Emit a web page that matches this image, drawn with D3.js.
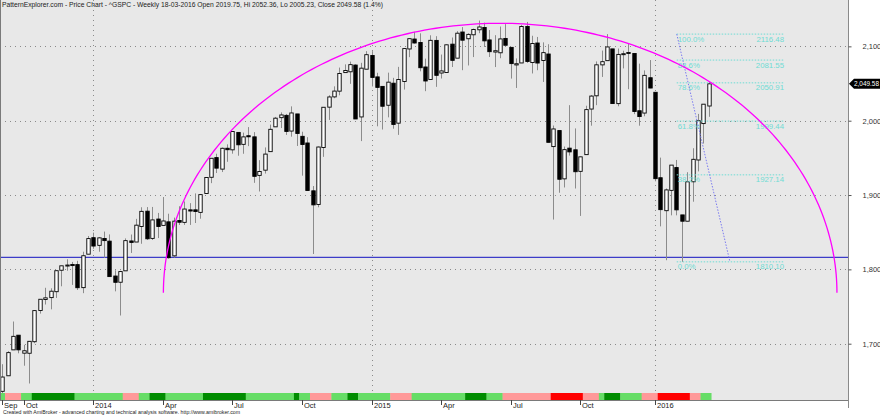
<!DOCTYPE html>
<html><head><meta charset="utf-8">
<script src="https://cdn.jsdelivr.net/npm/d3@7"></script>
<style>
html,body{margin:0;padding:0;background:#fff;}
svg{display:block;font-family:"Liberation Sans",Arial,sans-serif;}
</style></head>
<body>
<svg id="c" width="880" height="415"></svg>
<script>
// ---------- DATA (S&P 500 weekly, week ending 2013-09-06 .. 2016-03-18) ----------
const startDate = "2013-09-06";
const open = [1635.95,1656.85,1691.70,1711.44,1687.26,1687.15,1702.68,1744.66,1759.42,1762.01,
1769.96,1798.82,1804.82,1806.55,1806.40,1775.42,1820.42,1842.61,1832.31,1841.52,
1837.97,1791.03,1782.68,1798.03,1838.22,1836.78,1857.68,1878.26,1841.66,1867.67,
1859.16,1863.92,1818.18,1865.79,1863.23,1880.03,1880.07,1876.66,1902.01,1923.87,
1950.34,1934.84,1962.92,1960.79,1984.22,1968.17,1979.75,1978.25,1926.43,1933.43,
1958.36,1991.74,2004.07,2007.17,1986.04,2009.08,1978.96,1970.01,1905.65,1887.34,
1963.96,2018.21,2032.01,2039.74,2064.69,2065.78,2074.84,2005.03,2069.28,2087.63,
2058.90,2046.13,2020.76,2050.42,1996.67,2052.74,2096.47,2109.83,2105.23,2072.25,
2055.35,2107.99,2064.11,2064.87,2102.94,2084.11,2119.29,2110.23,2115.56,2122.27,
2125.34,2108.64,2092.34,2091.34,2110.64,2098.63,2075.00,2077.66,2126.80,2078.19,
2104.49,2080.98,2089.70,1965.15,1986.73,1921.75,1963.06,1960.84,1931.86,1954.33,
2015.65,2033.47,2075.08,2080.76,2096.56,2022.95,2089.41,2090.95,2090.42,2013.37,
2010.27,2057.77,2038.20,1923.26,1878.93,1906.28,1936.94,1873.25,1864.78,1917.83,
1947.13,1996.11,2019.75];
const high = [1672.40,1689.97,1729.86,1711.44,1698.43,1703.44,1745.31,1759.82,1775.22,1774.54,
1798.22,1804.84,1813.55,1810.02,1811.52,1823.75,1844.89,1849.44,1843.23,1850.84,
1847.00,1798.77,1798.03,1841.65,1846.87,1867.92,1883.57,1883.79,1883.97,1875.92,
1897.28,1874.86,1869.63,1884.89,1891.33,1889.07,1902.17,1901.26,1924.03,1949.44,
1955.55,1963.91,1968.17,1985.59,1984.22,1983.94,1991.39,1984.60,1946.91,1964.04,
1994.76,2005.04,2011.17,2009.08,2019.26,2009.08,1985.17,1977.84,1912.09,1965.27,
2018.19,2034.26,2046.18,2071.46,2075.76,2079.47,2075.78,2077.85,2093.55,2093.55,
2064.43,2046.13,2064.62,2057.62,2072.40,2097.03,2110.61,2119.59,2117.52,2083.49,
2114.86,2113.69,2088.97,2102.61,2111.91,2120.49,2125.92,2117.66,2123.89,2134.72,
2131.82,2121.92,2115.02,2126.65,2129.87,2098.63,2083.74,2128.91,2132.82,2114.24,
2112.66,2105.35,2102.87,1993.48,1986.73,1965.20,2020.86,1989.60,1951.83,2020.13,
2034.45,2079.74,2094.32,2116.48,2096.56,2097.06,2094.12,2104.27,2090.42,2076.72,
2067.65,2081.56,2038.20,1950.33,1908.85,1940.24,1947.20,1873.25,1930.68,1962.96,
2009.13,2022.37,2052.36];
const low = [1633.41,1656.85,1691.70,1687.11,1670.36,1646.47,1700.65,1740.50,1752.70,1746.20,
1761.56,1777.23,1798.17,1779.09,1772.28,1767.99,1820.42,1827.74,1823.73,1815.52,
1790.29,1770.45,1737.92,1798.03,1822.06,1836.78,1834.44,1839.57,1839.49,1842.11,
1859.16,1814.36,1815.80,1859.70,1859.79,1859.79,1862.36,1868.14,1902.01,1915.98,
1929.59,1930.91,1944.69,1955.59,1952.86,1955.49,1965.77,1916.37,1904.78,1928.89,
1958.36,1991.74,1990.10,1980.84,1978.48,1965.99,1926.03,1906.05,1820.66,1883.51,
1951.37,2001.01,2030.17,2034.14,2064.69,2049.57,2002.33,1972.56,2069.28,2046.04,
1992.44,1988.12,2004.49,1989.18,1980.90,2041.88,2085.44,2103.75,2066.41,2039.69,
2055.35,2045.50,2056.72,2064.87,2072.21,2084.11,2067.93,2074.29,2085.57,2117.69,
2099.14,2085.67,2072.14,2084.03,2101.61,2056.64,2044.02,2077.66,2077.73,2063.52,
2067.91,2052.09,1970.89,1867.01,1903.07,1910.16,1953.03,1908.77,1871.91,1954.33,
1993.26,2020.86,2058.84,2080.76,2022.87,2019.39,2070.29,2042.35,2008.80,1993.26,
2005.93,2043.62,1918.46,1857.83,1812.29,1872.65,1872.65,1810.10,1864.78,1891.00,
1931.81,1969.25,2005.23];
const close = [1655.17,1687.99,1709.91,1691.75,1690.50,1703.20,1744.50,1759.77,1761.64,1770.61,
1798.18,1804.76,1805.81,1805.09,1775.32,1818.32,1841.40,1831.37,1842.37,1838.70,
1790.29,1782.59,1797.02,1838.63,1836.25,1859.45,1878.04,1841.13,1866.52,1857.62,
1865.09,1815.69,1864.85,1863.40,1881.14,1878.48,1877.86,1900.53,1923.57,1949.44,
1936.16,1962.87,1960.96,1985.44,1967.57,1978.22,1978.34,1925.15,1931.59,1955.06,
1988.40,2003.37,2007.71,1985.54,2010.40,1982.85,1967.90,1906.13,1886.76,1964.58,
2018.05,2031.92,2039.82,2063.50,2067.56,2075.37,2002.33,2070.65,2088.77,2058.20,
2044.81,2019.42,2051.82,1994.99,2055.47,2096.99,2110.30,2104.50,2071.26,2053.40,
2108.10,2061.02,2066.96,2102.06,2081.18,2117.69,2108.29,2116.10,2122.73,2126.06,
2107.39,2092.83,2094.11,2109.99,2101.49,2076.78,2076.62,2126.64,2079.65,2103.84,
2077.57,2091.54,1970.89,1988.87,1921.22,1961.05,1958.03,1931.34,1951.36,2014.89,
2033.11,2075.15,2079.36,2099.20,2023.04,2089.17,2090.11,2091.69,2012.37,2005.55,
2060.99,2043.94,1922.03,1880.33,1906.90,1940.24,1880.05,1864.78,1917.78,1948.05,
1999.99,2022.19,2049.58];

// bottom ribbon: runs of [state, number of bars]
const ribbonRuns = [["lg",1],["pk",3],["lg",2],["dg",8],["lg",9],["pk",3],["lg",2],["dg",3],["lg",7],["dg",8],
["lg",9],["dg",1],["lg",2],["pk",4],["lg",3],["dg",2],["lg",6],["pk",4],["lg",10],["dg",4],
["lg",3],["pk",9],["rd",6],["pk",3],["lg",1],["dg",3],["lg",4],["pk",3],["rd",6],["pk",2],["lg",2]];

const tickLabels = ["Sep","Oct","2014","Apr","Jul","Oct","2015","Apr","Jul","Oct","2016"];
const tickDates  = ["2013-09-06","2013-10-04","2014-01-03","2014-04-04","2014-07-03","2014-10-03",
                    "2015-01-02","2015-04-02","2015-07-02","2015-10-02","2016-01-08"];
const priceTicks = [1700,1800,1900,2000,2100];

const fibLabels = ["100.0%","88.6%","78.6%","61.8%","38.2%","0.0%"];
const fibValues = [2116.48,2081.55,2050.91,1999.44,1927.14,1810.10];
const fibStartBar = 126.05, fibEndBar = 146.1;
const trendLine = [[126.05,2116.48],[136.0,1810.10]];
const supportLevel = 1816;
const arcBars = [30.1,156.0], arcBase = 1768.4, arcTop = 2131;

const titleText = "PatternExplorer.com - Price Chart - ^GSPC - Weekly 18-03-2016 Open 2019.75, Hi 2052.36, Lo 2005.23, Close 2049.58 (1.4%)";
const creditText = "Created with AmiBroker - advanced charting and technical analysis software. http://www.amibroker.com";

// ---------- DRAW ----------
const svg = d3.select("#c");
const W = 880, H = 415, plotR = 848, plotB = 400, ribbonTop = 393;
const x = d3.scaleLinear().domain([0,158]).range([2.35, 2.35+158*5.35]);
const y = d3.scaleLinear().domain([1700,2100]).range([343.7,46.35]);
const n = close.length;
const wk = 7*864e5;
const t0 = new Date(startDate+"T00:00:00Z").getTime();
const barOf = s => Math.round((new Date(s+"T00:00:00Z").getTime()-t0)/wk);

svg.append("rect").attr("x",0).attr("y",0).attr("width",plotR).attr("height",plotB).attr("fill","#e8e8e8");

const clip = svg.append("defs").append("clipPath").attr("id","pc");
clip.append("rect").attr("x",0).attr("y",0).attr("width",plotR).attr("height",ribbonTop);

// grid
const grid = svg.append("g");
grid.selectAll("line.h").data(priceTicks).join("line")
  .attr("x1",0).attr("x2",plotR).attr("y1",d=>Math.round(y(d))+0.5).attr("y2",d=>Math.round(y(d))+0.5)
  .attr("stroke","#8a8a8a").attr("stroke-dasharray","1,4");
const yearTicks = tickLabels.map((l,i)=>({l,b:barOf(tickDates[i])})).filter(d=>/^\d{4}$/.test(d.l));
grid.selectAll("line.v").data(yearTicks).join("line")
  .attr("x1",d=>Math.round(x(d.b))+0.5).attr("x2",d=>Math.round(x(d.b))+0.5).attr("y1",0).attr("y2",ribbonTop)
  .attr("stroke","#8a8a8a").attr("stroke-dasharray","1,4");

// ribbon
const ribbonColor = {lg:"#66dd66",dg:"#008c00",pk:"#ff9999",rd:"#ff0000"};
let acc = 0;
const ribbon = ribbonRuns.map(([s,k])=>{const r={s,a:acc,b:acc+k}; acc+=k; return r;});
svg.append("g").selectAll("rect").data(ribbon).join("rect")
  .attr("x",d=>x(d.a-0.5)).attr("width",d=>x(d.b-0.5)-x(d.a-0.5)+0.3)
  .attr("y",ribbonTop).attr("height",plotB-ribbonTop).attr("fill",d=>ribbonColor[d.s]);

const g = svg.append("g").attr("clip-path","url(#pc)");

// support line
g.append("line").attr("x1",0).attr("x2",plotR).attr("y1",y(supportLevel)).attr("y2",y(supportLevel))
  .attr("stroke","#3c3cc8").attr("stroke-width",1.2);

// candles
const bars = d3.range(n).map(i=>({i,o:open[i],h:high[i],l:low[i],c:close[i]}));
g.append("g").selectAll("line").data(bars).join("line")
  .attr("x1",d=>Math.round(x(d.i))+0.5).attr("x2",d=>Math.round(x(d.i))+0.5)
  .attr("y1",d=>y(d.h)).attr("y2",d=>y(d.l)).attr("stroke","#8c8c8c").attr("stroke-width",1);
const bw = 3.4;
g.append("g").selectAll("rect").data(bars).join("rect")
  .attr("x",d=>Math.round(x(d.i))+0.5-bw/2).attr("width",bw)
  .attr("y",d=>y(Math.max(d.o,d.c))).attr("height",d=>Math.max(1,Math.abs(y(d.o)-y(d.c))))
  .attr("fill",d=>d.c>=d.o?"#ffffff":"#000000").attr("stroke","#000").attr("stroke-width",0.9);

// fib
const fibC = "#6fdcd4";
const fg = g.append("g");
fg.selectAll("line").data(fibValues).join("line")
  .attr("x1",x(fibStartBar)).attr("x2",x(fibEndBar)).attr("y1",d=>y(d)).attr("y2",d=>y(d))
  .attr("stroke",fibC).attr("stroke-dasharray","1.5,1.5");
fg.selectAll("text.l").data(fibValues).join("text").attr("class","l")
  .attr("x",x(fibStartBar)+1).attr("y",d=>y(d)+7.5).attr("fill",fibC).attr("font-size",7.8)
  .text((d,i)=>fibLabels[i]);
fg.selectAll("text.r").data(fibValues).join("text").attr("class","r")
  .attr("x",x(fibEndBar)).attr("y",d=>y(d)+7.5).attr("fill",fibC).attr("font-size",7.8)
  .attr("text-anchor","end").text(d=>d.toFixed(2));
g.append("line").attr("x1",x(trendLine[0][0])).attr("y1",y(trendLine[0][1]))
  .attr("x2",x(trendLine[1][0])).attr("y2",y(trendLine[1][1]))
  .attr("stroke","#7b7bf0").attr("stroke-dasharray","1.5,1.5");

// arc
const cxB = (arcBars[0]+arcBars[1])/2, rxB = (arcBars[1]-arcBars[0])/2;
const arcPts = d3.range(0,181).map(a=>{const t=Math.PI*a/180; return [cxB-rxB*Math.cos(t), arcBase+(arcTop-arcBase)*Math.sin(t)];});
g.append("path").attr("d",d3.line().x(d=>x(d[0])).y(d=>y(d[1]))(arcPts))
  .attr("fill","none").attr("stroke","#ff00ff").attr("stroke-width",1.3);

// axes frame
svg.append("line").attr("x1",0.5).attr("x2",0.5).attr("y1",0).attr("y2",plotB).attr("stroke","#7a7a7a");
svg.append("line").attr("x1",0).attr("x2",plotR).attr("y1",plotB+0.5).attr("y2",plotB+0.5).attr("stroke","#7a7a7a");
svg.append("line").attr("x1",plotR+0.5).attr("x2",plotR+0.5).attr("y1",0).attr("y2",408).attr("stroke","#8a8a8a");

// right axis
const ax = svg.append("g").attr("transform",`translate(${plotR+0.5},0)`)
  .call(d3.axisRight(y).tickValues(priceTicks).tickFormat(d3.format(",")).tickSize(3).tickPadding(11));
ax.select(".domain").remove();
ax.selectAll("line").attr("stroke","#555");
ax.selectAll("text").attr("font-size",7.5).attr("fill","#333").attr("font-family","Liberation Sans, Arial, sans-serif");

// last price tag
const lp = close[n-1], ly = y(lp);
svg.append("path").attr("d",`M${plotR+1},${ly} L${plotR+6},${ly-5} L${W},${ly-5} L${W},${ly+5} L${plotR+6},${ly+5} Z`).attr("fill","#000");
svg.append("text").attr("x",plotR+6).attr("y",ly+2.6).attr("fill","#fff").attr("font-size",7)
  .attr("textLength",25).attr("lengthAdjust","spacingAndGlyphs")
  .text(d3.format(",.2f")(lp));

// x axis ticks
const xt = svg.append("g");
const tks = tickLabels.map((l,i)=>({l,b:barOf(tickDates[i])}));
xt.selectAll("line").data(tks).join("line")
  .attr("x1",d=>Math.round(x(d.b))+0.5).attr("x2",d=>Math.round(x(d.b))+0.5).attr("y1",plotB).attr("y2",plotB+5)
  .attr("stroke","#444");
xt.selectAll("text").data(tks).join("text")
  .attr("x",d=>Math.round(x(d.b))+2).attr("y",plotB+8).attr("font-size",7.5).attr("fill","#222").text(d=>d.l);

// title and credit
svg.append("text").attr("x",2).attr("y",7).attr("font-size",7).attr("fill","#222")
  .attr("textLength",381).attr("lengthAdjust","spacingAndGlyphs").text(titleText);
svg.append("text").attr("x",3).attr("y",414).attr("font-size",6).attr("fill","#222")
  .attr("textLength",237).attr("lengthAdjust","spacingAndGlyphs").text(creditText);
</script>
</body></html>
